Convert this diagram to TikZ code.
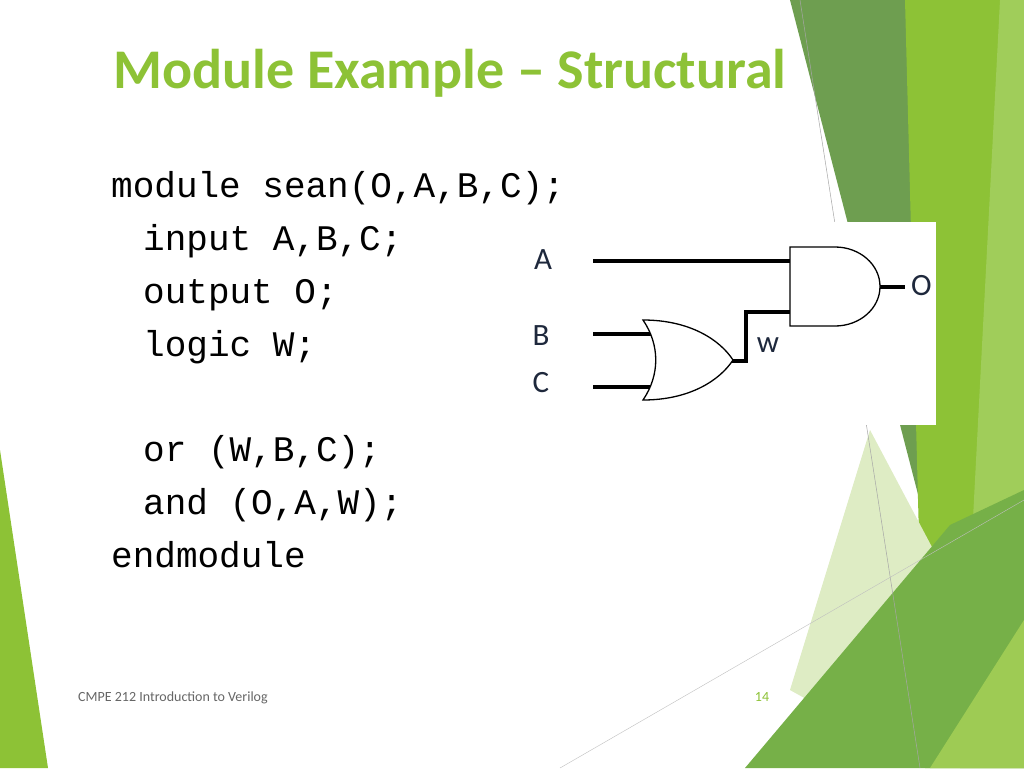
\documentclass[tikz,border=0pt]{standalone}
\usepackage{fontspec}
\setmainfont{Carlito}
\setmonofont{Liberation Mono}
\usetikzlibrary{positioning}
\definecolor{mygreen}{RGB}{141,194,54}
\definecolor{mydark}{RGB}{110,158,80}
\definecolor{mymid}{RGB}{118,176,72}
\definecolor{mypale}{RGB}{222,236,196}
\definecolor{mylight}{RGB}{160,205,90}
\definecolor{mylabel}{RGB}{30,40,60}
\tikzset{
  codeline/.style={anchor=base west, inner sep=0pt, font=\fontsize{36}{36}\ttfamily},
  wire/.style={line width=3.2pt},
  gate/.style={line width=1.3pt, fill=white},
  pinlabel/.style={font=\fontsize{31}{31}\selectfont, text=mylabel, inner sep=0pt}
}
\begin{document}
\begin{tikzpicture}[x=1pt,y=-1pt]
	\useasboundingbox (0,0) rectangle (1024,768);
	\fill[white] (0,0) rectangle (1024,768);
	
	% Background shapes
	\fill[mydark] (790,0) -- (910,0) -- (960,600) -- (935,560) -- cycle;
	\fill[mygreen] (905,0) -- (1024,0) -- (1024,768) -- (925,768) -- cycle;
	\fill[mylight] (1000,0) -- (1024,0) -- (1024,768) -- (960,768) -- cycle;
	\fill[mypale] (870,430) -- (960,600) -- (930,768) -- (790,690) -- cycle;
	\fill[mymid] (745,768) -- (950,525) -- (1024,490) -- (1024,768) -- cycle;
	\fill[mygreen!85!white] (930,768) -- (1024,620) -- (1024,768) -- cycle;
	\fill[mygreen] (0,450) -- (48,768) -- (0,768) -- cycle;
	\draw[gray!70, line width=0.5pt] (800,0) -- (920,768);
	\draw[gray!50, line width=0.4pt] (560,768) -- (1024,500);
	
	% Title
	\node[anchor=base west, inner sep=0pt, text=mygreen, font=\fontsize{56}{56}\bfseries] (title) at (113,88) {Module Example – Structural};
	
	% Code
	\node[codeline] (l1) at (111,197) {module sean(O,A,B,C);};
	\node[codeline] (l2) at (143,250) {input A,B,C;};
	\node[codeline] (l3) at (143,303) {output O;};
	\node[codeline] (l4) at (143,356) {logic W;};
	\node[codeline] (l5) at (143,461) {or (W,B,C);};
	\node[codeline] (l6) at (143,514) {and (O,A,W);};
	\node[codeline] (l7) at (111,567) {endmodule};
	
	% Circuit picture
	\fill[white] (528,222) rectangle (936,425);
	\node[pinlabel] (A) at (543,260) {A};
	\node[pinlabel] (B) at (541,336) {B};
	\node[pinlabel] (C) at (541,383) {C};
	\node[pinlabel, anchor=west] (O) at (911,286) {O};
	\node[pinlabel] (W) at (768,345) {w};
	\coordinate (a0) at (593,261);
	\coordinate (b0) at (593,334);
	\coordinate (c0) at (593,387);
	\coordinate (o0) at (905,287);
	\draw[wire] (a0) -- (790,261);
	\draw[wire] (b0) -- (652,334);
	\draw[wire] (c0) -- (652,387);
	\draw[wire] (731,361) -- (746,361) -- (746,312) -- (790,312);
	\draw[wire] (877,287) -- (o0);
	% and gate
	\draw[gate] (790,247) -- (835,247) arc[start angle=90, end angle=-90, x radius=45, y radius=-39.5] -- (790,326) -- cycle;
	% or gate
	\draw[gate] (643,320) .. controls (690,320) and (720,340) .. (733,360)
	  .. controls (720,380) and (690,400) .. (643,400)
	  .. controls (660,375) and (660,345) .. (643,320) -- cycle;
	
	% Footer
	\node[anchor=base west, inner sep=0pt, text=gray!80!black, font=\fontsize{14}{14}\selectfont] (foot) at (78,701) {CMPE 212 Introduction to Verilog};
	\node[anchor=base, inner sep=0pt, text=mygreen, font=\fontsize{14}{14}\selectfont] (page) at (762,701) {14};
\end{tikzpicture}
\end{document}
